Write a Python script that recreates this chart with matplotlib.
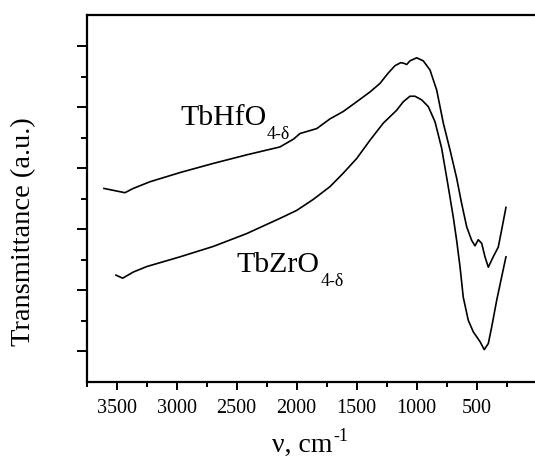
import matplotlib
matplotlib.use("Agg")
import matplotlib.pyplot as plt
from matplotlib.ticker import FixedLocator, MultipleLocator, NullFormatter
import numpy as np

plt.rcParams['font.family'] = ['Liberation Serif', 'DejaVu Serif']

# TbHfO4-d spectrum (wavenumber, transmittance a.u.)
hf_wn = [3606, 3431, 3362, 3222, 2972, 2695, 2417, 2139, 2025, 1972, 1833, 1722,
         1612, 1500, 1389, 1306, 1237, 1181, 1133, 1106, 1083, 1056, 1000, 945,
         889, 833, 778, 722, 667, 625, 583, 542, 514, 487, 458, 431, 403, 362,
         320, 292, 256]
hf_T = [3.17, 3.10, 3.17, 3.28, 3.43, 3.58, 3.72, 3.85, 3.98, 4.07, 4.15, 4.31,
        4.43, 4.59, 4.75, 4.89, 5.06, 5.18, 5.23, 5.22, 5.20, 5.26, 5.31, 5.26,
        5.11, 4.78, 4.24, 3.80, 3.34, 2.92, 2.54, 2.32, 2.23, 2.33, 2.27, 2.05,
        1.88, 2.05, 2.21, 2.49, 2.86]

# TbZrO4-d spectrum
zr_wn = [3506, 3450, 3362, 3250, 2972, 2695, 2417, 2139, 2000, 1862, 1722, 1612,
         1500, 1389, 1278, 1167, 1112, 1056, 1014, 958, 903, 847, 792, 737,
         695, 667, 639, 612, 570, 528, 472, 437, 403, 375, 333, 292, 256]
zr_T = [1.75, 1.70, 1.80, 1.89, 2.05, 2.22, 2.43, 2.68, 2.81, 2.99, 3.20, 3.42,
        3.66, 3.96, 4.24, 4.45, 4.59, 4.68, 4.68, 4.62, 4.51, 4.26, 3.83, 3.20,
        2.70, 2.32, 1.89, 1.39, 1.01, 0.82, 0.66, 0.53, 0.63, 0.90, 1.34, 1.72,
        2.05]

x_ticks = [3500, 3000, 2500, 2000, 1500, 1000, 500]
x_ticklabels = ['3500', '3000', '2500', '2000', '1500', '1000', '500']

fig = plt.figure(figsize=(5.35, 4.63), dpi=100)
ax = fig.add_axes([0.162, 0.175, 0.838, 0.7925])

for wn, T in [(hf_wn, hf_T), (zr_wn, zr_T)]:
    ax.plot(wn, T, color='black', lw=1.2, solid_joinstyle='round')

ax.set_xlim(3750, 14)
ax.set_ylim(0, 6.01)

ax.xaxis.set_major_locator(FixedLocator(x_ticks))
ax.set_xticklabels(x_ticklabels, fontsize=14.5)
ax.xaxis.set_minor_locator(MultipleLocator(250))
ax.yaxis.set_major_locator(FixedLocator(np.arange(0.5, 6.0, 1.0)))
ax.yaxis.set_minor_locator(FixedLocator(np.arange(1.0, 6.0, 1.0)))
ax.yaxis.set_major_formatter(NullFormatter())

ax.tick_params(axis='x', which='major', direction='out', length=6, width=1.4, pad=6)
ax.tick_params(axis='x', which='minor', direction='out', length=3.5, width=1.4)
ax.tick_params(axis='y', which='major', direction='out', length=7, width=1.4)
ax.tick_params(axis='y', which='minor', direction='out', length=4, width=1.4)
ax.tick_params(top=False, right=False, which='both')

ax.spines['right'].set_visible(False)
for s in ['left', 'bottom', 'top']:
    ax.spines[s].set_linewidth(1.6)

t1 = ax.text(2972, 4.21, 'TbHfO', fontsize=21.5, ha='left', va='baseline')
ax.annotate('4-δ', xy=(1, 0), xycoords=t1, xytext=(0.5, -5.5),
            textcoords='offset points', fontsize=13, ha='left', va='baseline')
t2 = ax.text(2500, 1.80, 'TbZrO', fontsize=21.5, ha='left', va='baseline')
ax.annotate('4-δ', xy=(1, 0), xycoords=t2, xytext=(0.5, -5.5),
            textcoords='offset points', fontsize=13, ha='left', va='baseline')

fig.text(0.045, 0.5, 'Transmittance (a.u.)', rotation=90, fontsize=20.5,
         ha='center', va='center')
t3 = fig.text(0.508, 0.0244, 'ν, cm', fontsize=20, ha='left', va='baseline')
ax.annotate('-1', xy=(1, 1), xycoords=t3, xytext=(0.5, -6),
            textcoords='offset points', fontsize=13, ha='left', va='baseline')

fig.savefig('out.png', dpi=100)
